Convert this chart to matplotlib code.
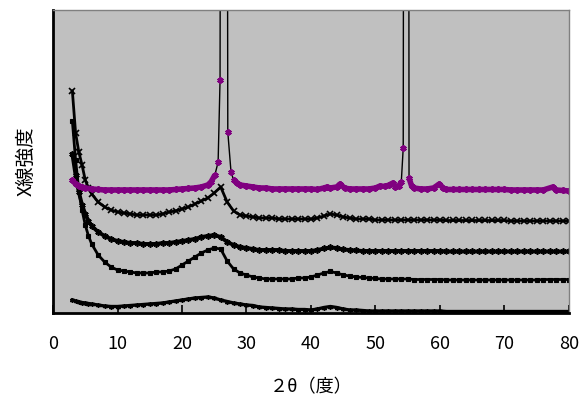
import matplotlib
matplotlib.use("Agg")
import matplotlib.pyplot as plt
import numpy as np

# shared 2theta grid for the four amorphous-looking patterns
two_theta = [3, 3.5, 4, 4.5, 5, 5.5, 6] + list(range(7, 81))

# intensities (arbitrary units)
pat_b = ([222, 180, 161, 148, 133, 125, 119, 111, 106, 103, 101, 100, 99, 98, 98, 98, 98,
          99, 101, 102, 104, 106, 109, 112, 115, 120, 126, 111, 102, 98, 97, 96, 95, 95, 95,
          94, 94, 94, 94, 94, 94, 95, 97, 99, 98, 96, 95, 94, 94, 94, 93]
         + [93] * 10 + [92.5] * 10 + [92] * 10)
pat_c = ([159, 138, 121, 108, 99, 92, 87, 81, 77, 74, 72, 71, 70, 70, 69, 69, 69,
          70, 70, 71, 72, 73, 74, 76, 77, 78, 76, 71, 68, 66, 65, 64, 63, 63, 63,
          63, 62, 62, 62, 62, 62, 63, 64.5, 65.5, 65, 63.5, 63, 62.5, 62, 62, 62]
         + [62] * 10 + [61.5] * 20)
pat_d = ([192, 153, 123, 103, 88, 77, 69, 58, 51, 46, 43, 42, 41, 40, 40, 40, 41,
          41, 42, 44, 48, 52, 56, 60, 63, 65, 64, 52, 44, 40, 38, 36, 35, 34, 34,
          34, 34, 34, 35, 35, 36, 38, 40, 41.5, 40, 38, 37, 36, 35.5, 35, 34.5]
         + [34] * 5 + [33.5] * 5 + [33] * 15 + [33.5] * 5)
pat_e = ([13, 12, 11, 10.5, 10, 9.5, 9, 8, 7, 6.5, 6.5, 7, 7.5, 8, 8.5, 9, 9.5,
          10, 11, 12, 13, 14, 15, 15.5, 16, 15, 13, 11.5, 10, 9, 8, 7.5, 6, 5.5, 5,
          4.5, 4, 4, 3.5, 3.5, 3, 4, 5.5, 6.5, 5.5, 4, 3, 3, 2.5, 2, 2]
         + [2] * 10 + [1.5] * 20)

# crystalline sample, sharp peaks near 26.5 and 55 deg run off the top
two_theta_a = ([3, 3.5, 4, 4.5, 5, 6, 7] + list(range(8, 19))
               + [19, 20, 21, 22, 23, 24, 24.5, 25.1, 25.6, 25.9, 26.2, 26.8, 27.1, 27.6,
                  28, 28.5, 29, 30, 31, 32, 33] + list(range(34, 41))
               + [41, 42, 42.5, 43, 44, 44.5, 45.2, 46, 47, 48, 49, 50, 50.7, 51.5, 52.1,
                  52.7, 53.1, 53.6, 54.0, 54.3, 54.55, 55.05, 55.2, 55.6, 56, 57, 58, 59,
                  59.9, 60.5] + list(range(61, 77)) + [77.5, 78, 79, 80])
pat_a = ([133, 129, 127, 126, 125, 124, 123.5] + [123] * 11
         + [123.5, 124, 124.5, 125, 126, 128, 131, 138, 151, 233, 1500, 1500, 181, 141,
            133, 130, 128, 127, 126, 125, 125] + [124] * 7
         + [123.5, 125, 126, 125, 126, 129, 125, 124, 124, 124, 124, 125, 127, 126.5, 128,
            130, 126, 127, 131, 165, 1500, 1500, 135, 127, 125, 124, 124, 125,
            129, 125] + [123.5] * 10 + [123] * 6 + [126, 123, 122.5, 122])

plt.rcParams['font.family'] = ['Liberation Sans Narrow', 'Noto Sans CJK JP', 'DejaVu Sans']
cjk = ['Noto Sans CJK JP', 'DejaVu Sans']
purple = '#800080'

fig = plt.figure(figsize=(5.87, 4.09), dpi=100)
ax = fig.add_axes([0.0903, 0.2347, 0.879, 0.741])
ax.set_facecolor('#c0c0c0')

star = (6, 2, 0)
ax.plot(two_theta, pat_e, color='black', lw=2.4, marker=star, ms=3.5, mew=1.0)
ax.plot(two_theta, pat_d, color='black', lw=2.0, marker='s', ms=2.5, mew=0.8)
ax.plot(two_theta, pat_c, color='black', lw=2.8, marker=star, ms=4.5, mew=1.2)
ax.plot(two_theta, pat_b, color='black', lw=2.0, marker='x', ms=4, mew=1.2)

# purple sample: thin black connecting line, dense purple markers form the band
ax.plot(two_theta_a, pat_a, color='black', lw=1)
band = np.where(np.array(pat_a) < 140, pat_a, np.nan)
ax.plot(two_theta_a, band, color=purple, lw=4, solid_capstyle='butt')
ax.plot(two_theta_a, pat_a, ls='none', marker=star, ms=4.5, mew=1.5, mec=purple)

ax.set_xlim(0, 80)
ax.set_ylim(0, 303)
ax.set_xticks(range(0, 81, 10))
ax.set_yticks([])
ax.tick_params(axis='x', direction='in', length=6, width=1.2, pad=16, labelsize=13)

for side in ['left', 'bottom']:
    ax.spines[side].set_linewidth(2)
    ax.spines[side].set_color('black')
for side in ['top', 'right']:
    ax.spines[side].set_linewidth(1)
    ax.spines[side].set_color('#808080')

ax.set_xlabel('２θ（度）', fontsize=13, labelpad=18, family=cjk)
ax.set_ylabel('X線強度', fontsize=14, labelpad=12, family=cjk)

fig.savefig('out.png', dpi=100)
